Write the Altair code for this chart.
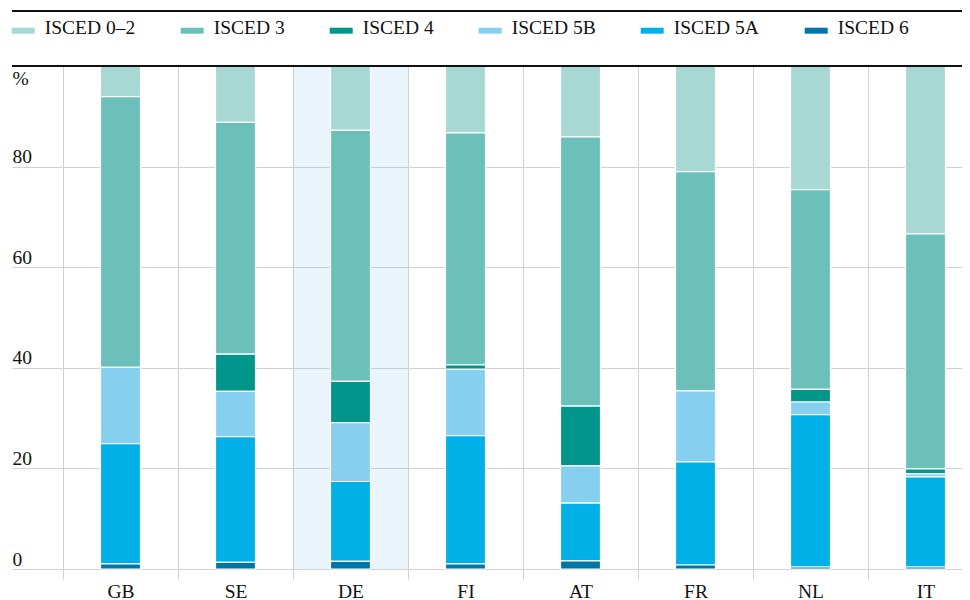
import altair as alt
import pandas as pd

countries = ["GB", "SE", "DE", "FI", "AT", "FR", "NL", "IT"]
highlight = ["DE"]
levels = ["ISCED 0–2", "ISCED 3", "ISCED 4", "ISCED 5B", "ISCED 5A", "ISCED 6"]
colors = ["#a8d8d3", "#6bc1b9", "#00968c", "#87cfef", "#00b0e6", "#0076a8"]
stack_rank = [5, 4, 3, 2, 1, 0]  # bottom: ISCED 6 ... top: ISCED 0–2

isced02 = [6.1, 11.2, 12.8, 13.3, 14.1, 21.0, 24.6, 33.4]
isced3 = [53.8, 46.1, 49.9, 46.1, 53.5, 43.6, 39.7, 46.7]
isced4 = [0.0, 7.4, 8.2, 0.9, 11.9, 0.0, 2.5, 1.0]
isced5b = [15.2, 9.0, 11.7, 13.2, 7.4, 14.1, 2.5, 0.6]
isced5a = [23.9, 25.0, 15.9, 25.5, 11.5, 20.5, 30.3, 17.9]
isced6 = [1.0, 1.3, 1.5, 1.0, 1.6, 0.8, 0.4, 0.4]
series = [isced02, isced3, isced4, isced5b, isced5a, isced6]

y_ticks = [0, 20, 40, 60, 80]

rows = []
for lvl, rank, vals in zip(levels, stack_rank, series):
    for c, v in zip(countries, vals):
        if v > 0:
            rows.append({"country": c, "level": lvl, "value": v, "rank": rank})
df = pd.DataFrame(rows)
bg_df = pd.DataFrame({"country": highlight, "lo": [0] * len(highlight), "hi": [100] * len(highlight)})
line_df = pd.DataFrame({"pos": [0]})

FONT = "Liberation Serif"
FS = 19.5
GRID = "#d2d2d2"
W, H = 899, 503

xscale = alt.Scale(domain=countries, range=[0, 920], paddingInner=0, paddingOuter=0)
yscale = alt.Scale(domain=[0, 100], nice=False)

xaxis = alt.Axis(
    title=None, tickBand="extent", tickSize=10, tickColor=GRID, tickWidth=1,
    domain=False, grid=True, gridColor=GRID, gridWidth=1,
    labelPadding=3, labelFont=FONT, labelFontSize=FS, labelColor="#111111", labelAngle=0,
)
yaxis = alt.Axis(
    values=y_ticks, title="%", titleAngle=0, titleX=-51, titleY=18, titleAlign="left",
    titleBaseline="alphabetic", titleFont=FONT, titleFontSize=FS, titleFontWeight="normal",
    titleColor="#111111", tickSize=51, tickColor=GRID, tickWidth=1, domain=False,
    grid=True, gridColor=GRID, gridWidth=1, labelAlign="left", labelPadding=0,
    labelBaseline="alphabetic", labelOffset=-4, labelFont=FONT, labelFontSize=FS,
    labelColor="#111111", labelFlush=False, labelOverlap=False,
)

head_rule = alt.Chart(line_df).mark_rule(color="#111111", strokeWidth=2).encode(
    x=alt.value(-51), x2=alt.value(920), y=alt.value(-55)
)

bg = alt.Chart(bg_df).mark_bar(width={"band": 1}, color="#7fbfea", opacity=0.17).encode(
    x=alt.X("country:N", scale=xscale, axis=xaxis, sort=countries),
    y=alt.Y("hi:Q", scale=yscale, axis=yaxis),
    y2="lo:Q",
)

bars = alt.Chart(df).mark_bar(size=40, stroke="white", strokeWidth=1.2).encode(
    x=alt.X("country:N", scale=xscale, axis=xaxis, sort=countries),
    y=alt.Y("sum(value):Q", scale=yscale, axis=yaxis, stack="zero"),
    color=alt.Color(
        "level:N",
        scale=alt.Scale(domain=levels, range=colors),
        legend=alt.Legend(
            title=None, orient="none", legendX=-51.3, legendY=-49.5, direction="horizontal",
            symbolType="M-1,-0.025H1V0.495H-1Z", symbolSize=529, symbolStrokeWidth=0,
            labelFont=FONT, labelFontSize=FS, labelColor="#111111", labelOffset=10,
            columnPadding=45, padding=0,
        ),
    ),
    order=alt.Order("rank:Q", sort="ascending"),
)

top_rule = alt.Chart(line_df).mark_rule(color="#111111", strokeWidth=2).encode(
    x=alt.value(-51), x2=alt.value(920), y=alt.value(0)
)

chart = alt.layer(head_rule, bg, bars, top_rule).properties(
    width=W, height=H,
    autosize=alt.AutoSizeParams(type="none"),
    padding={"left": 55, "top": 58, "right": 0, "bottom": 31},
).configure_view(stroke=None).configure(background="white")

chart.save("out.html", embed_options={"renderer": "svg", "actions": False})
